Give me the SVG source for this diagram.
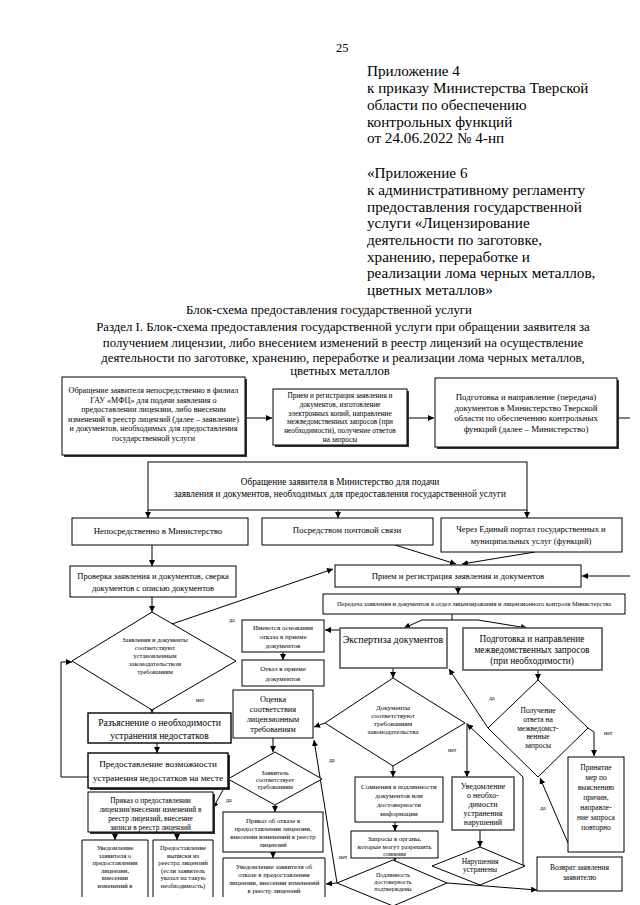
<svg xmlns="http://www.w3.org/2000/svg" width="640" height="905" viewBox="0 0 640 905">
<defs>
<marker id="ah" viewBox="0 0 10 10" refX="10" refY="5" markerWidth="6" markerHeight="6" orient="auto-start-reverse" markerUnits="userSpaceOnUse">
<path d="M0,0 L10,5 L0,10 z" fill="#000"/>
</marker>
<style>
text{font-family:"Liberation Serif","Times New Roman",serif;fill:#000}
.h{font-size:15.2px}
.t{font-size:12.8px;text-anchor:middle}
.c{text-anchor:middle}
.box{fill:#fff;stroke:#000;stroke-width:1}
.sh{fill:#333}
.gb{fill:#fff;stroke:#555;stroke-width:1.6}
.tb{fill:#fff;stroke:#000;stroke-width:1.4}
.open{fill:none;stroke:#000;stroke-width:1}
.cn{fill:none;stroke:#000;stroke-width:1}
.cn path,.cn line,.cn polyline{marker-end:url(#ah)}
.cn .nm{marker-end:none}
.lb{font-size:6px}
</style>
</defs>

<g id="header">
<text x="336" y="52" style="font-size:12.5px">25</text>
<text class="h" x="367" y="76">Приложение 4</text>
<text class="h" x="367" y="93">к приказу Министерства Тверской</text>
<text class="h" x="367" y="110">области по обеспечению</text>
<text class="h" x="367" y="127">контрольных функций</text>
<text class="h" x="367" y="143">от 24.06.2022 № 4-нп</text>
<text class="h" x="367" y="178">«Приложение 6</text>
<text class="h" x="367" y="195">к административному регламенту</text>
<text class="h" x="367" y="212">предоставления государственной</text>
<text class="h" x="367" y="228">услуги «Лицензирование</text>
<text class="h" x="367" y="245">деятельности по заготовке,</text>
<text class="h" x="367" y="262">хранению, переработке и</text>
<text class="h" x="367" y="278">реализации лома черных металлов,</text>
<text class="h" x="367" y="295">цветных металлов»</text>
</g>

<g id="title">
<text class="t" x="329" y="314">Блок-схема предоставления государственной услуги</text>
<text class="t" x="343" y="331">Раздел I. Блок-схема предоставления государственной услуги при обращении заявителя за</text>
<text class="t" x="343" y="347">получением лицензии, либо внесением изменений в реестр лицензий на осуществление</text>
<text class="t" x="343" y="362">деятельности по заготовке, хранению, переработке и реализации лома черных металлов,</text>
<text class="t" x="340" y="375">цветных металлов</text>
</g>

<g id="connectors" class="cn">
<line x1="245" y1="418" x2="272" y2="418"/>
<line x1="407" y1="418" x2="434" y2="418"/>
<line class="nm" x1="617" y1="418" x2="630" y2="418"/>
<line x1="148" y1="510" x2="148" y2="518"/>
<line x1="338" y1="510" x2="338" y2="518"/>
<line x1="527" y1="510" x2="527" y2="518"/>
<line x1="152" y1="545" x2="152" y2="566"/>
<line x1="395" y1="545" x2="456" y2="564"/>
<line x1="535" y1="552" x2="462" y2="564"/>
<line x1="630" y1="576" x2="582" y2="576"/>
<line x1="172" y1="624" x2="333" y2="569"/>
<line x1="458" y1="587" x2="458" y2="594"/>
<line x1="152" y1="597" x2="152" y2="612"/>
<polyline class="nm" points="452,614 452,620"/>
<polyline class="nm" points="422,620 478,620"/>
<line x1="422" y1="620" x2="404" y2="628"/>
<line x1="478" y1="620" x2="527" y2="628"/>
<line x1="340" y1="630" x2="325" y2="630"/>
<line x1="283" y1="652" x2="283" y2="660"/>
<line x1="393" y1="668" x2="393" y2="678"/>
<line x1="325" y1="723" x2="314" y2="727"/>
<line x1="273" y1="738" x2="273" y2="752"/>
<line x1="393" y1="766" x2="393" y2="777"/>
<line x1="467" y1="723" x2="467" y2="777"/>
<polyline class="nm" points="523,866 523,777"/>
<line x1="523" y1="777" x2="467" y2="724"/>
<line x1="538" y1="670" x2="538" y2="680"/>
<line x1="488" y1="728" x2="449" y2="669"/>
<polyline points="588,728 594,732 594,756"/>
<line x1="568" y1="843" x2="540" y2="778"/>
<line x1="395" y1="822" x2="395" y2="831"/>
<line x1="395" y1="858" x2="395" y2="861"/>
<line x1="337" y1="883" x2="326" y2="884"/>
<line x1="337" y1="883" x2="314" y2="740"/>
<line x1="447" y1="883" x2="537" y2="890"/>
<line x1="480" y1="830" x2="480" y2="847"/>
<line x1="152" y1="710" x2="152" y2="713"/>
<line x1="157" y1="743" x2="157" y2="753"/>
<polyline points="88,777 61,777 61,662 72,662"/>
<line x1="228" y1="781" x2="213" y2="808"/>
<line x1="275" y1="805" x2="275" y2="812"/>
<line x1="273" y1="852" x2="273" y2="858"/>
<line x1="115" y1="832" x2="115" y2="840"/>
<line x1="177" y1="832" x2="177" y2="840"/>
</g>

<g id="labels">
<text class="lb" x="229" y="622">да</text>
<text class="lb" x="196" y="702">нет</text>
<text class="lb" x="226" y="802">да</text>
<text class="lb" x="329" y="762">да</text>
<text class="lb" x="448" y="752">нет</text>
<text class="lb" x="489" y="700">да</text>
<text class="lb" x="604" y="735">нет</text>
<text class="lb" x="540" y="810">да</text>
<text class="lb" x="339" y="859">нет</text>
</g>

<g id="nA">
<rect class="sh" x="64" y="379" width="183" height="78"/>
<rect class="box" x="62" y="377" width="183" height="78"/>
<g class="c" style="font-size:8.1px">
<text x="153.5" y="393">Обращение заявителя непосредственно в филиал</text>
<text x="153.5" y="402.5">ГАУ «МФЦ» для подачи заявления о</text>
<text x="153.5" y="412">предоставлении лицензии, либо внесении</text>
<text x="153.5" y="421.5">изменений в реестр лицензий (далее – заявление)</text>
<text x="153.5" y="431">и документов, необходимых для предоставления</text>
<text x="153.5" y="440.5">государственной услуги</text>
</g>
</g>

<g id="nB">
<rect class="sh" x="275" y="391" width="134" height="56"/>
<rect class="box" x="273" y="389" width="134" height="56"/>
<g class="c" style="font-size:7.3px">
<text x="340" y="398">Прием и регистрация заявления и</text>
<text x="340" y="406.8">документов, изготовление</text>
<text x="340" y="415.6">электронных копий, направление</text>
<text x="340" y="424.4">межведомственных запросов (при</text>
<text x="340" y="433.2">необходимости), получение ответов</text>
<text x="340" y="442">на запросы</text>
</g>
</g>

<g id="nC">
<rect class="sh" x="437" y="380" width="182" height="69"/>
<rect class="box" x="435" y="378" width="182" height="69"/>
<g class="c" style="font-size:8.8px">
<text x="526" y="400">Подготовка и направление (передача)</text>
<text x="526" y="410.5">документов в Министерство Тверской</text>
<text x="526" y="421">области по обеспечению контрольных</text>
<text x="526" y="431.5">функций (далее – Министерство)</text>
</g>
</g>

<g id="nD">
<rect class="box" x="148" y="462" width="379" height="48"/>
<g class="c" style="font-size:9.3px">
<text x="340" y="485">Обращение заявителя в Министерство для подачи</text>
<text x="340" y="497">заявления и документов, необходимых для предоставления государственной услуги</text>
</g>
</g>

<g id="nE">
<rect class="box" x="72" y="518" width="176" height="27"/>
<text class="c" x="158" y="534" style="font-size:8.8px">Непосредственно в Министерство</text>
</g>

<g id="nF">
<rect class="box" x="262" y="518" width="171" height="27"/>
<text class="c" x="347" y="533" style="font-size:8.8px">Посредством почтовой связи</text>
</g>

<g id="nG">
<rect class="box" x="441" y="518" width="181" height="34"/>
<g class="c" style="font-size:8.5px">
<text x="531" y="532">Через Единый портал государственных и</text>
<text x="531" y="544">муниципальных услуг (функций)</text>
</g>
</g>

<g id="nH">
<rect class="box" x="70" y="566" width="166" height="31"/>
<g class="c" style="font-size:8.5px">
<text x="153" y="579">Проверка заявления и документов, сверка</text>
<text x="153" y="591">документов с описью документов</text>
</g>
</g>

<g id="nI">
<rect class="box" x="335" y="565" width="246" height="22"/>
<text class="c" x="458" y="579" style="font-size:8.8px">Прием и регистрация заявления и документов</text>
</g>

<g id="nK">
<rect class="box" x="323" y="594" width="302" height="20"/>
<text class="c" x="474" y="606" style="font-size:6.4px">Передача заявления и документов в отдел лицензирования и лицензионного контроля Министерства</text>
</g>

<g id="nJ">
<polygon class="box" points="152,612 236,661 152,710 72,661"/>
<g class="c" style="font-size:6.5px">
<text x="155" y="642">Заявления и документы</text>
<text x="155" y="650">соответствуют</text>
<text x="155" y="658">установленным</text>
<text x="155" y="666">законодательством</text>
<text x="155" y="674">требованиям</text>
</g>
</g>

<g id="nRefuseGround">
<rect class="box" x="242" y="620" width="82" height="32"/>
<g class="c" style="font-size:7px">
<text x="283" y="630">Имеются основания</text>
<text x="283" y="639">отказа в приеме</text>
<text x="283" y="648">документов</text>
</g>
</g>

<g id="nRefuse">
<rect class="box" x="242" y="660" width="82" height="26"/>
<g class="c" style="font-size:7px">
<text x="283" y="671">Отказ в приеме</text>
<text x="283" y="681">документов</text>
</g>
</g>

<g id="nExpert">
<rect class="gb" x="340" y="628" width="107" height="40"/>
<text class="c" x="393" y="643" style="font-size:10px">Экспертиза документов</text>
</g>

<g id="nInterReq">
<rect class="gb" x="463" y="628" width="139" height="42"/>
<g class="c" style="font-size:9.3px">
<text x="532" y="642">Подготовка и направление</text>
<text x="532" y="653">межведомственных запросов</text>
<text x="532" y="664">(при необходимости)</text>
</g>
</g>

<g id="nAssess">
<rect class="box" x="233" y="690" width="80" height="48"/>
<g class="c" style="font-size:8.3px">
<text x="273" y="702">Оценка</text>
<text x="273" y="712">соответствия</text>
<text x="273" y="722">лицензионным</text>
<text x="273" y="732">требованиям</text>
</g>
</g>

<g id="nL">
<rect class="tb" x="88" y="713" width="143" height="30"/>
<g class="c" style="font-size:9.6px">
<text x="159.5" y="726">Разъяснение о необходимости</text>
<text x="159.5" y="739">устранения недостатков</text>
</g>
</g>

<g id="nM">
<rect class="sh" x="90" y="755" width="140" height="35"/>
<rect class="tb" x="88" y="753" width="140" height="35"/>
<g class="c" style="font-size:9.2px">
<text x="158" y="767">Предоставление возможности</text>
<text x="158" y="781">устранения недостатков на месте</text>
</g>
</g>

<g id="nDocOk">
<polygon class="box" points="393,678 465,723 393,766 325,723"/>
<g class="c" style="font-size:7px">
<text x="393" y="710">Документы</text>
<text x="393" y="718">соответствуют</text>
<text x="393" y="726">требованиям</text>
<text x="393" y="734">законодательства</text>
</g>
</g>

<g id="nAnswer">
<polygon class="box" points="538,680 588,728 538,777 488,728"/>
<g class="c" style="font-size:7.5px">
<text x="538" y="713">Получение</text>
<text x="538" y="722">ответа на</text>
<text x="538" y="731">межведомст-</text>
<text x="538" y="739">венные</text>
<text x="538" y="748">запросы</text>
</g>
</g>

<g id="nMeasures">
<rect class="box" x="568" y="757" width="56" height="95"/>
<g class="c" style="font-size:7.5px">
<text x="596" y="770">Принятие</text>
<text x="596" y="780">мер по</text>
<text x="596" y="790">выяснению</text>
<text x="596" y="800">причин,</text>
<text x="596" y="810">направле-</text>
<text x="596" y="820">ние запроса</text>
<text x="596" y="830">повторно</text>
</g>
</g>

<g id="nApplicantOk">
<polygon class="box" points="275,752 322,779 275,805 228,779"/>
<g class="c" style="font-size:6.5px">
<text x="275" y="775">Заявитель</text>
<text x="275" y="782">соответствует</text>
<text x="275" y="789">требованиям</text>
</g>
</g>

<g id="nOrderGrant">
<rect class="sh" x="90" y="794" width="125" height="40"/>
<rect class="box" x="88" y="792" width="125" height="40"/>
<g class="c" style="font-size:7.4px">
<text x="150.5" y="803">Приказ о предоставлении</text>
<text x="150.5" y="812">лицензии/внесении изменений в</text>
<text x="150.5" y="821">реестр лицензий, внесение</text>
<text x="150.5" y="830">записи в реестр лицензий</text>
</g>
</g>

<g id="nOrderRefuse">
<rect class="box" x="223" y="812" width="100" height="40"/>
<g class="c" style="font-size:6.8px">
<text x="273" y="823">Приказ об отказе в</text>
<text x="273" y="831">предоставлении лицензии,</text>
<text x="273" y="839">внесении изменений в реестр</text>
<text x="273" y="847">лицензий</text>
</g>
</g>

<g id="nNotifyRefuse">
<path class="open" d="M223,897 V858 H325 V897"/>
<g class="c" style="font-size:6.8px">
<text x="274" y="869">Уведомление заявителя об</text>
<text x="274" y="877">отказе в предоставлении</text>
<text x="274" y="885">лицензии, внесении изменений</text>
<text x="274" y="893">в реестр лицензий</text>
</g>
</g>

<g id="nNotifyGrant">
<path class="open" d="M82,897 V840 H148 V897"/>
<g class="c" style="font-size:6.6px">
<text x="115" y="850">Уведомление</text>
<text x="115" y="857.5">заявителя о</text>
<text x="115" y="865">предоставлении</text>
<text x="115" y="872.5">лицензии,</text>
<text x="115" y="880">внесении</text>
<text x="115" y="887.5">изменений в</text>
</g>
</g>

<g id="nExtract">
<path class="open" d="M153,897 V840 H213 V897"/>
<g class="c" style="font-size:6.6px">
<text x="183" y="850">Предоставление</text>
<text x="183" y="857.5">выписки из</text>
<text x="183" y="865">реестра лицензий</text>
<text x="183" y="872.5">(если заявитель</text>
<text x="183" y="880">указал на такую</text>
<text x="183" y="887.5">необходимость)</text>
</g>
</g>

<g id="nDoubt">
<rect class="box" x="355" y="777" width="88" height="45"/>
<g class="c" style="font-size:7px">
<text x="399" y="789">Сомнения в подлинности</text>
<text x="399" y="798">документов или</text>
<text x="399" y="807">достоверности</text>
<text x="399" y="816">информации</text>
</g>
</g>

<g id="nNotifyFix">
<rect class="gb" x="452" y="777" width="62" height="53"/>
<g class="c" style="font-size:8px">
<text x="483" y="789">Уведомление</text>
<text x="483" y="798">о необхо-</text>
<text x="483" y="807">димости</text>
<text x="483" y="816">устранения</text>
<text x="483" y="825">нарушений</text>
</g>
</g>

<g id="nRequests">
<rect class="box" x="351" y="831" width="87" height="27"/>
<g class="c" style="font-size:6.8px">
<text x="394.5" y="841">Запросы в органы,</text>
<text x="394.5" y="849">которые могут разрешить</text>
<text x="394.5" y="856" style="font-size:5.5px">сомнения</text>
</g>
</g>

<g id="nFixed">
<polygon class="box" points="480,847 525,866 480,885 432,866"/>
<g class="c" style="font-size:7.5px">
<text x="480" y="864">Нарушения</text>
<text x="480" y="872">устранены</text>
</g>
</g>

<g id="nAuth">
<polygon class="box" points="393,860 447,883 393,906 337,883"/>
<g class="c" style="font-size:6px">
<text x="393" y="877">Подлинность</text>
<text x="393" y="884">достоверность</text>
<text x="393" y="891">подтверждены</text>
</g>
</g>

<g id="nReturn">
<rect class="box" x="537" y="857" width="85" height="34"/>
<g class="c" style="font-size:7.5px">
<text x="579.5" y="870">Возврат заявления</text>
<text x="579.5" y="880">заявителю</text>
</g>
</g>
</svg>
